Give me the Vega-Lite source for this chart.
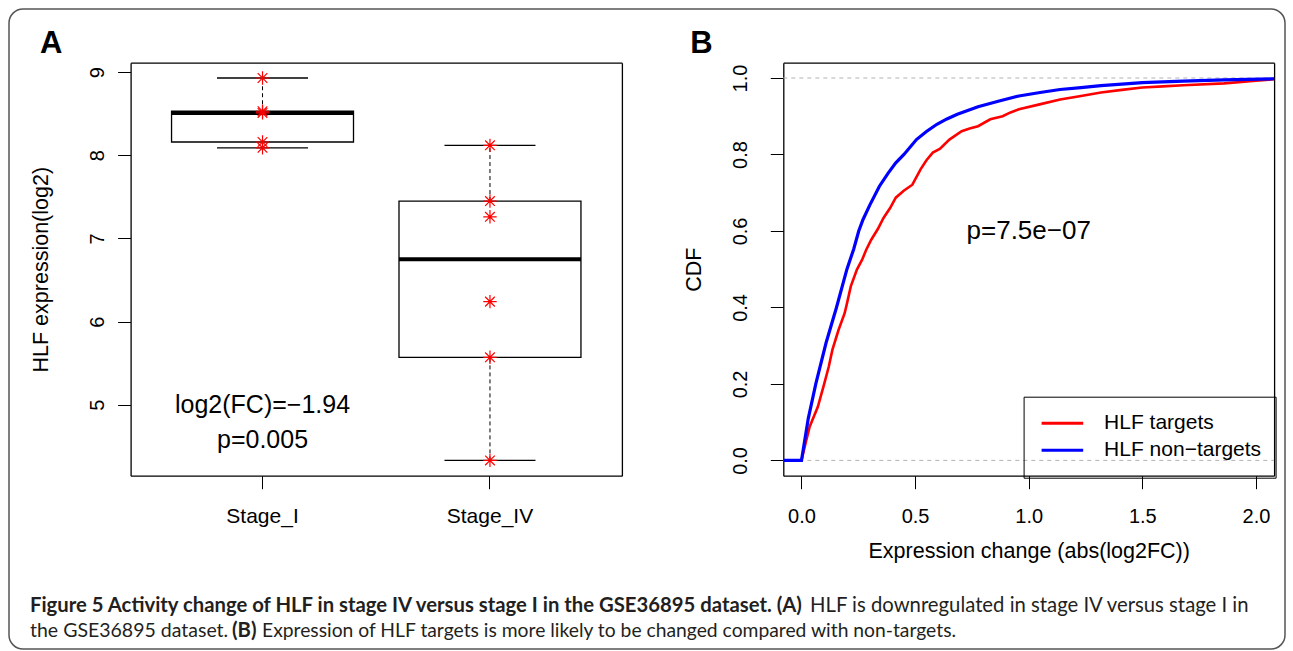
{
  "$schema": "https://vega.github.io/schema/vega-lite/v6.json",
  "width": 1276,
  "height": 640,
  "autosize": {"type": "none"},
  "padding": {"left": 9, "top": 9, "right": 8, "bottom": 2},
  "background": "white",
  "datasets": {
    "box": [
      {"stage": "Stage_I", "lo": 8.09, "q1": 8.16, "med": 8.51, "q3": 8.53, "hi": 8.93},
      {"stage": "Stage_IV", "lo": 4.33, "q1": 5.57, "med": 6.75, "q3": 7.45, "hi": 8.12}
    ],
    "pts": [
      {"stage": "Stage_I", "value": 8.93},
      {"stage": "Stage_I", "value": 8.53},
      {"stage": "Stage_I", "value": 8.51},
      {"stage": "Stage_I", "value": 8.16},
      {"stage": "Stage_I", "value": 8.09},
      {"stage": "Stage_IV", "value": 8.12},
      {"stage": "Stage_IV", "value": 7.45},
      {"stage": "Stage_IV", "value": 7.26},
      {"stage": "Stage_IV", "value": 6.24},
      {"stage": "Stage_IV", "value": 5.57},
      {"stage": "Stage_IV", "value": 4.33}
    ],
    "ref": [{"h": 0}, {"h": 1}],
    "cdf": [
      {"series": "HLF targets", "x": -0.08, "y": 0},
      {"series": "HLF targets", "x": 0, "y": 0},
      {"series": "HLF targets", "x": 0.018, "y": 0.045},
      {"series": "HLF targets", "x": 0.036, "y": 0.088},
      {"series": "HLF targets", "x": 0.072, "y": 0.14},
      {"series": "HLF targets", "x": 0.1, "y": 0.2},
      {"series": "HLF targets", "x": 0.12, "y": 0.245},
      {"series": "HLF targets", "x": 0.136, "y": 0.289},
      {"series": "HLF targets", "x": 0.163, "y": 0.341},
      {"series": "HLF targets", "x": 0.19, "y": 0.385},
      {"series": "HLF targets", "x": 0.2, "y": 0.41},
      {"series": "HLF targets", "x": 0.217, "y": 0.455},
      {"series": "HLF targets", "x": 0.244, "y": 0.499},
      {"series": "HLF targets", "x": 0.267, "y": 0.525},
      {"series": "HLF targets", "x": 0.285, "y": 0.551},
      {"series": "HLF targets", "x": 0.307, "y": 0.577},
      {"series": "HLF targets", "x": 0.336, "y": 0.605},
      {"series": "HLF targets", "x": 0.361, "y": 0.634},
      {"series": "HLF targets", "x": 0.39, "y": 0.66},
      {"series": "HLF targets", "x": 0.415, "y": 0.687},
      {"series": "HLF targets", "x": 0.45, "y": 0.705},
      {"series": "HLF targets", "x": 0.488, "y": 0.721},
      {"series": "HLF targets", "x": 0.524, "y": 0.761},
      {"series": "HLF targets", "x": 0.55, "y": 0.785},
      {"series": "HLF targets", "x": 0.578, "y": 0.805},
      {"series": "HLF targets", "x": 0.61, "y": 0.815},
      {"series": "HLF targets", "x": 0.651, "y": 0.839},
      {"series": "HLF targets", "x": 0.705, "y": 0.861},
      {"series": "HLF targets", "x": 0.74, "y": 0.868},
      {"series": "HLF targets", "x": 0.777, "y": 0.874},
      {"series": "HLF targets", "x": 0.831, "y": 0.892},
      {"series": "HLF targets", "x": 0.885, "y": 0.9},
      {"series": "HLF targets", "x": 0.92, "y": 0.91},
      {"series": "HLF targets", "x": 0.957, "y": 0.918},
      {"series": "HLF targets", "x": 1.048, "y": 0.931},
      {"series": "HLF targets", "x": 1.138, "y": 0.944},
      {"series": "HLF targets", "x": 1.23, "y": 0.953},
      {"series": "HLF targets", "x": 1.318, "y": 0.962},
      {"series": "HLF targets", "x": 1.41, "y": 0.969},
      {"series": "HLF targets", "x": 1.5, "y": 0.975},
      {"series": "HLF targets", "x": 1.59, "y": 0.978},
      {"series": "HLF targets", "x": 1.68, "y": 0.981},
      {"series": "HLF targets", "x": 1.86, "y": 0.986},
      {"series": "HLF targets", "x": 1.987, "y": 0.992},
      {"series": "HLF targets", "x": 2.08, "y": 0.997},
      {"series": "HLF non−targets", "x": -0.08, "y": 0},
      {"series": "HLF non−targets", "x": 0, "y": 0},
      {"series": "HLF non−targets", "x": 0.03, "y": 0.11},
      {"series": "HLF non−targets", "x": 0.063, "y": 0.2},
      {"series": "HLF non−targets", "x": 0.108, "y": 0.307},
      {"series": "HLF non−targets", "x": 0.154, "y": 0.4},
      {"series": "HLF non−targets", "x": 0.2, "y": 0.5},
      {"series": "HLF non−targets", "x": 0.23, "y": 0.553},
      {"series": "HLF non−targets", "x": 0.252, "y": 0.6},
      {"series": "HLF non−targets", "x": 0.271, "y": 0.63},
      {"series": "HLF non−targets", "x": 0.3, "y": 0.667},
      {"series": "HLF non−targets", "x": 0.343, "y": 0.717},
      {"series": "HLF non−targets", "x": 0.38, "y": 0.75},
      {"series": "HLF non−targets", "x": 0.415, "y": 0.778},
      {"series": "HLF non−targets", "x": 0.451, "y": 0.8},
      {"series": "HLF non−targets", "x": 0.506, "y": 0.839},
      {"series": "HLF non−targets", "x": 0.55, "y": 0.86},
      {"series": "HLF non−targets", "x": 0.596, "y": 0.879},
      {"series": "HLF non−targets", "x": 0.64, "y": 0.893},
      {"series": "HLF non−targets", "x": 0.686, "y": 0.905},
      {"series": "HLF non−targets", "x": 0.777, "y": 0.925},
      {"series": "HLF non−targets", "x": 0.87, "y": 0.94},
      {"series": "HLF non−targets", "x": 0.957, "y": 0.953},
      {"series": "HLF non−targets", "x": 1.05, "y": 0.962},
      {"series": "HLF non−targets", "x": 1.138, "y": 0.97},
      {"series": "HLF non−targets", "x": 1.23, "y": 0.975},
      {"series": "HLF non−targets", "x": 1.318, "y": 0.98},
      {"series": "HLF non−targets", "x": 1.41, "y": 0.984},
      {"series": "HLF non−targets", "x": 1.5, "y": 0.988},
      {"series": "HLF non−targets", "x": 1.68, "y": 0.992},
      {"series": "HLF non−targets", "x": 1.86, "y": 0.995},
      {"series": "HLF non−targets", "x": 2.08, "y": 0.998}
    ]
  },
  "config": {
    "view": {"stroke": "#555555", "strokeWidth": 1.5, "cornerRadius": 14},
    "font": "Liberation Sans",
    "axis": {
      "domain": false, "grid": false,
      "labelFont": "Liberation Sans", "titleFont": "Liberation Sans",
      "labelColor": "#000000", "titleColor": "#000000", "tickColor": "#000000", "domainColor": "#000000",
      "tickWidth": 1, "domainWidth": 1.3, "tickSize": 13,
      "labelFontSize": 20, "titleFontSize": 21.5, "titleFontWeight": "normal",
      "labelFlush": false, "labelOverlap": false, "labelBound": false
    }
  },
  "layer": [
    {
      "layer": [
        {
          "encoding": {
            "x": {
              "field": "stage", "type": "nominal",
              "scale": {"type": "band", "domain": ["Stage_I", "Stage_IV"], "range": [121.6, 612.9], "paddingInner": 0.2, "paddingOuter": 0.18},
              "axis": {"orient": "bottom", "offset": -173.3, "title": null, "labelAngle": 0, "labelFontSize": 21, "labelBaseline": "alphabetic", "labelPadding": 34, "domain": true}
            }
          },
          "layer": [
            {
              "data": {"name": "box"},
              "mark": {"type": "rule", "strokeDash": [4, 3], "color": "#000000", "strokeWidth": 1},
              "encoding": {
                "y": {"field": "q3", "type": "quantitative",
                  "scale": {"domain": [4.146, 9.114], "range": [466.7, 53.7], "nice": false, "zero": false},
                  "axis": {"orient": "left", "offset": -121.6, "values": [5, 6, 7, 8, 9], "format": "d", "title": "HLF expression(log2)", "labelAngle": -90, "labelAlign": "center", "labelBaseline": "alphabetic", "labelPadding": 14, "domain": true, "titleAngle": -90, "titleX": -83.5, "titleY": 260.2, "titleAlign": "center", "titleBaseline": "alphabetic"}
                },
                "y2": {"field": "hi"}
              }
            },
            {
              "data": {"name": "box"},
              "mark": {"type": "rule", "strokeDash": [4, 3], "color": "#000000", "strokeWidth": 1},
              "encoding": {"y": {"field": "lo", "type": "quantitative"}, "y2": {"field": "q1"}}
            },
            {
              "data": {"name": "box"},
              "mark": {"type": "tick", "orient": "horizontal", "size": 91, "thickness": 1.3, "color": "#000000", "opacity": 1},
              "encoding": {"y": {"field": "hi", "type": "quantitative"}}
            },
            {
              "data": {"name": "box"},
              "mark": {"type": "tick", "orient": "horizontal", "size": 91, "thickness": 1.3, "color": "#000000", "opacity": 1},
              "encoding": {"y": {"field": "lo", "type": "quantitative"}}
            },
            {
              "data": {"name": "box"},
              "mark": {"type": "bar", "fill": "#ffffff", "stroke": "#000000", "strokeWidth": 1.3},
              "encoding": {"y": {"field": "q1", "type": "quantitative"}, "y2": {"field": "q3"}}
            },
            {
              "data": {"name": "box"},
              "mark": {"type": "tick", "orient": "horizontal", "size": 182, "thickness": 4, "color": "#000000", "opacity": 1},
              "encoding": {"y": {"field": "med", "type": "quantitative"}}
            },
            {
              "data": {"name": "pts"},
              "mark": {"type": "point", "shape": "M-1,0L1,0M0,-1L0,1M-0.72,-0.72L0.72,0.72M-0.72,0.72L0.72,-0.72", "size": 180, "filled": false, "color": "#ff0000", "strokeWidth": 1.2, "opacity": 1},
              "encoding": {"y": {"field": "value", "type": "quantitative"}}
            },
            {
              "data": {"values": [{"label": "log2(FC)=−1.94"}]},
              "mark": {"type": "text", "fontSize": 25, "align": "center", "baseline": "middle", "color": "#000000"},
              "encoding": {"x": {"datum": "Stage_I"}, "y": {"datum": 5.0}, "text": {"field": "label"}}
            },
            {
              "data": {"values": [{"label": "p=0.005"}]},
              "mark": {"type": "text", "fontSize": 25, "align": "center", "baseline": "middle", "color": "#000000"},
              "encoding": {"x": {"datum": "Stage_I"}, "y": {"datum": 4.57}, "text": {"field": "label"}}
            }
          ]
        },
        {
          "data": {"name": "box"},
          "mark": {"type": "point", "opacity": 0},
          "encoding": {
            "x": {"field": "stage", "type": "nominal",
              "scale": {"type": "band", "domain": ["Stage_I", "Stage_IV"], "range": [121.6, 612.9], "paddingInner": 0.2, "paddingOuter": 0.18},
              "axis": {"orient": "top", "offset": -53.7, "labels": false, "ticks": false, "domain": true, "title": "A", "titleFontSize": 31, "titleFontWeight": "bold", "titleX": 30.4, "titleY": -10.4, "titleAlign": "left", "titleBaseline": "alphabetic", "titleAngle": 0}
            },
            "y": {"field": "q1", "type": "quantitative",
              "axis": {"orient": "right", "offset": -663.1, "labels": false, "ticks": false, "domain": true, "title": null}
            }
          }
        }
      ],
      "resolve": {"axis": {"x": "independent", "y": "independent"}}
    },
    {
      "layer": [
        {
          "layer": [
            {
              "data": {"name": "ref"},
              "mark": {"type": "rule", "strokeDash": [4, 4], "color": "#b3b3b3", "strokeWidth": 1},
              "encoding": {
                "x": {"datum": -0.08, "type": "quantitative",
                  "scale": {"domain": [-0.08, 2.08], "range": [774.3, 1265.1], "nice": false, "zero": false},
                  "axis": {"orient": "bottom", "offset": -173.3, "values": [0, 0.5, 1, 1.5, 2], "format": ".1f", "labelBaseline": "alphabetic", "labelPadding": 34, "domain": true, "title": "Expression change (abs(log2FC))", "titleX": 1019.7, "titleY": 81.3, "titleAlign": "center", "titleBaseline": "alphabetic", "titleAngle": 0}
                },
                "x2": {"datum": 2.08},
                "y": {"field": "h", "type": "quantitative",
                  "scale": {"domain": [-0.04, 1.04], "range": [466.7, 53.7], "nice": false, "zero": false},
                  "axis": {"orient": "left", "offset": -774.3, "values": [0, 0.2, 0.4, 0.6, 0.8, 1], "format": ".1f", "labelAngle": -90, "labelAlign": "center", "labelBaseline": "alphabetic", "labelPadding": 24, "domain": true, "title": "CDF", "titleAngle": -90, "titleX": -82.8, "titleY": 260.2, "titleAlign": "center", "titleBaseline": "alphabetic"}
                }
              }
            },
            {
              "data": {"name": "cdf"},
              "transform": [{"filter": "datum.series === 'HLF targets'"}],
              "mark": {"type": "line", "strokeWidth": 2.6, "interpolate": "linear"},
              "encoding": {
                "x": {"field": "x", "type": "quantitative"},
                "y": {"field": "y", "type": "quantitative"},
                "color": {"field": "series", "type": "nominal",
                  "scale": {"domain": ["HLF targets", "HLF non−targets"], "range": ["#ff0000", "#0000ff"]},
                  "legend": {"title": null, "orient": "none", "legendX": 1014.6, "legendY": 387.7, "strokeColor": "#000000", "padding": 13.5, "clipHeight": 26.3, "rowPadding": 0, "symbolType": "stroke", "symbolStrokeWidth": 3, "symbolSize": 1730, "labelFontSize": 21, "labelFont": "Liberation Sans", "labelColor": "#000000", "labelOffset": 19.2, "symbolOffset": 2.8, "labelLimit": 400}
                }
              }
            },
            {
              "data": {"name": "cdf"},
              "transform": [{"filter": "datum.series === 'HLF non−targets'"}],
              "mark": {"type": "line", "strokeWidth": 3.2, "interpolate": "linear"},
              "encoding": {
                "x": {"field": "x", "type": "quantitative"},
                "y": {"field": "y", "type": "quantitative"},
                "color": {"field": "series", "type": "nominal"}
              }
            },
            {
              "data": {"values": [{"label": "p=7.5e−07"}]},
              "mark": {"type": "text", "fontSize": 26, "align": "center", "baseline": "middle", "color": "#000000"},
              "encoding": {"x": {"datum": 1.0, "type": "quantitative"}, "y": {"datum": 0.6, "type": "quantitative"}, "text": {"field": "label"}}
            }
          ]
        },
        {
          "data": {"name": "ref"},
          "mark": {"type": "point", "opacity": 0},
          "encoding": {
            "x": {"datum": 0, "type": "quantitative",
              "axis": {"orient": "top", "offset": -53.7, "labels": false, "ticks": false, "domain": true, "title": "B", "titleFontSize": 31, "titleFontWeight": "bold", "titleX": 680.8, "titleY": -10.4, "titleAlign": "left", "titleBaseline": "alphabetic", "titleAngle": 0}
            },
            "y": {"field": "h", "type": "quantitative",
              "axis": {"orient": "right", "offset": -10.9, "labels": false, "ticks": false, "domain": true, "title": null}
            }
          }
        }
      ],
      "resolve": {"axis": {"x": "independent", "y": "independent"}}
    },
    {
      "data": {"values": [{"t": "Figure 5 Activity change of HLF in stage IV versus stage I in the GSE36895 dataset. (A)"}]},
      "mark": {"type": "text", "align": "left", "baseline": "alphabetic", "font": "Lato", "fontSize": 20.3, "fontWeight": "bold", "color": "#231f20"},
      "encoding": {"text": {"field": "t"}, "x": {"value": 21}, "y": {"value": 602.5}}
    },
    {
      "data": {"values": [{"t": "HLF is downregulated in stage IV versus stage I in"}]},
      "mark": {"type": "text", "align": "left", "baseline": "alphabetic", "font": "Lato", "fontSize": 20.3, "fontWeight": "normal", "color": "#231f20"},
      "encoding": {"text": {"field": "t"}, "x": {"value": 801}, "y": {"value": 602.5}}
    },
    {
      "data": {"values": [{"t": "the GSE36895 dataset."}]},
      "mark": {"type": "text", "align": "left", "baseline": "alphabetic", "font": "Lato", "fontSize": 19.5, "fontWeight": "normal", "color": "#231f20"},
      "encoding": {"text": {"field": "t"}, "x": {"value": 21}, "y": {"value": 627.5}}
    },
    {
      "data": {"values": [{"t": "(B)"}]},
      "mark": {"type": "text", "align": "left", "baseline": "alphabetic", "font": "Lato", "fontSize": 20.3, "fontWeight": "bold", "color": "#231f20"},
      "encoding": {"text": {"field": "t"}, "x": {"value": 223}, "y": {"value": 627.5}}
    },
    {
      "data": {"values": [{"t": "Expression of HLF targets is more likely to be changed compared with non-targets."}]},
      "mark": {"type": "text", "align": "left", "baseline": "alphabetic", "font": "Lato", "fontSize": 19.3, "fontWeight": "normal", "color": "#231f20"},
      "encoding": {"text": {"field": "t"}, "x": {"value": 253}, "y": {"value": 627.5}}
    }
  ],
  "resolve": {"scale": {"x": "independent", "y": "independent"}, "axis": {"x": "independent", "y": "independent"}}
}
